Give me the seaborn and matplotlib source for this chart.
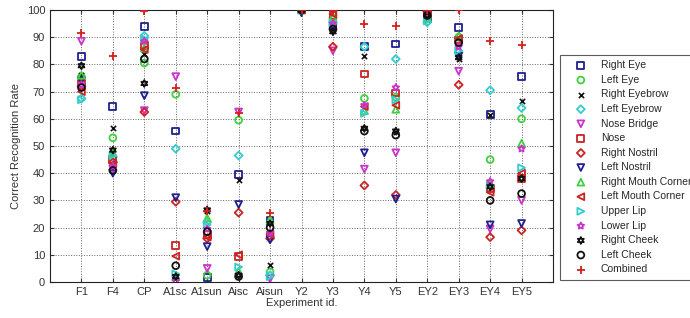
import numpy as np
import pandas as pd
import matplotlib
matplotlib.use("Agg")
import matplotlib.pyplot as plt
import seaborn as sns

sns.set_style("white")
plt.rcParams['font.family'] = ['Liberation Sans', 'DejaVu Sans']

# experiment ids on the x axis
experiments = ['F1', 'F4', 'CP', 'A1sc', 'A1sun', 'Aisc', 'Aisun', 'Y2', 'Y3',
               'Y4', 'Y5', 'EY2', 'EY3', 'EY4', 'EY5']

# recognition rates (%) per facial region
right_eye = [83, 64.5, 94, 55.5, 1.8, 39.5, 22.5, 100, 94.5, 86.5, 87.5, 97, 93.5, 61.5, 75.5]
left_eye = [75.5, 53, 80.5, 69, 2.5, 59.5, 3.7, 100, 97, 67.5, 68, 97, 90, 45, 60]
right_eyebrow = [76, 56.5, 84, 2, 26, 37.5, 6.2, 100, 93, 83, 55, 97, 82, 61.5, 66.5]
left_eyebrow = [67.5, 46, 90.5, 49, 22, 46.5, 2.5, 100, 95.5, 86.5, 82, 95.5, 84.5, 70.5, 64]
nose_bridge = [88.5, 41.5, 63, 75.5, 5, 62.5, 1.2, 100, 85, 41.5, 47.5, 98, 77.5, 19.5, 30]
nose = [73, 45, 87, 13.5, 17.5, 9.5, 17, 100, 98, 76.5, 69.5, 99.5, 89, 34.5, 38]
right_nostril = [72, 44, 62.5, 29.5, 16, 25.5, 16, 100, 86.5, 35.5, 32, 99.5, 72.5, 16.5, 19]
left_nostril = [74, 40, 68.5, 31, 13, 28.5, 15.5, 99, 93.5, 47.5, 30.5, 98.5, 83, 21, 21.5]
right_mouth = [76, 47.5, 86, 2, 23.5, 4, 23, 100, 97.5, 63, 63.5, 97, 90.5, 36, 51]
left_mouth = [70, 43.5, 85.5, 9.5, 16.5, 10, 17.5, 100, 98.5, 64.5, 65, 99, 89.5, 33, 40]
upper_lip = [67, 46.5, 89.5, 3, 21, 5.5, 2, 100, 95, 62, 67, 96, 85, 35.5, 42]
lower_lip = [72.5, 42.5, 88.5, 0.3, 19.5, 2.5, 18, 100, 95, 65, 71.5, 98, 86.5, 37, 49]
right_cheek = [79.5, 48.5, 73, 2, 26.5, 2.5, 21.5, 100, 92, 56.5, 55.5, 98, 82.5, 35, 38]
left_cheek = [71.5, 41, 82, 6, 18.5, 2, 20, 100, 93, 55.5, 54, 98, 88, 30, 32.5]
combined = [91.5, 83, 99.8, 71.5, 26, 62, 25.5, 100, 99.7, 95, 94, 100, 100, 88.5, 87]

series = [
    ('Right Eye', right_eye, 's', '#1f1f8f'),
    ('Left Eye', left_eye, 'o', '#3fd13f'),
    ('Right Eyebrow', right_eyebrow, 'x', '#111111'),
    ('Left Eyebrow', left_eyebrow, 'D', '#33cccc'),
    ('Nose Bridge', nose_bridge, 'v', '#cc33cc'),
    ('Nose', nose, 's', '#cc2222'),
    ('Right Nostril', right_nostril, 'D', '#cc2222'),
    ('Left Nostril', left_nostril, 'v', '#1f1f8f'),
    ('Right Mouth Corner', right_mouth, '^', '#3fd13f'),
    ('Left Mouth Corner', left_mouth, '<', '#cc2222'),
    ('Upper Lip', upper_lip, '>', '#33cccc'),
    ('Lower Lip', lower_lip, (5, 1, 0), '#cc33cc'),
    ('Right Cheek', right_cheek, (6, 1, 0), '#111111'),
    ('Left Cheek', left_cheek, 'o', '#111111'),
    ('Combined', combined, '+', '#d42020'),
]

fig = plt.figure(figsize=(6.9, 3.18), dpi=100)
ax = fig.add_axes([50 / 690, 1 - 282 / 318, 503 / 690, 272 / 318])

xpos = np.arange(1, len(experiments) + 1)
for name, vals, mk, col in series:
    df = pd.DataFrame({'x': xpos, 'y': vals})
    size = 16 if mk == 'D' else 24
    if mk == 'x':
        sns.scatterplot(data=df, x='x', y='y', marker=mk, color=col, s=14,
                        linewidth=1.2, ax=ax, label=name, zorder=3)
    elif mk == '+':
        sns.scatterplot(data=df, x='x', y='y', marker=mk, color=col, s=36,
                        linewidth=1.3, ax=ax, label=name, zorder=3)
    else:
        sns.scatterplot(data=df, x='x', y='y', marker=mk, facecolor='none',
                        edgecolor=col, s=size, linewidth=1.3, ax=ax,
                        label=name, zorder=3)

ax.set_xlim(0, 16)
ax.set_ylim(0, 100)
ax.set_xticks(xpos)
ax.set_xticklabels(experiments)
ax.set_yticks(np.arange(0, 101, 10))
ax.grid(True, linestyle=':', color='#666666', linewidth=0.7)
ax.tick_params(direction='in', length=3, labelsize=8, colors='#333333',
               top=True, right=True, bottom=True, left=True)
for sp in ax.spines.values():
    sp.set_color('#222222')
    sp.set_linewidth(0.8)
ax.set_xlabel('Experiment id.', fontsize=8, color='#333333', labelpad=1)
ax.set_ylabel('Correct Recognition Rate', fontsize=8, color='#333333', labelpad=4)

handles, labels = ax.get_legend_handles_labels()
ax.get_legend().remove()
leg = fig.legend(handles, labels, loc='upper left',
                 bbox_to_anchor=(560 / 690, 1 - 55 / 318), fontsize=7.5,
                 frameon=True, fancybox=False, edgecolor='#333333',
                 handlelength=3.0, handletextpad=0.4, labelspacing=0.44,
                 borderpad=0.5, borderaxespad=0)
leg.get_frame().set_linewidth(0.8)

fig.savefig('out.png', dpi=100, facecolor='white')
